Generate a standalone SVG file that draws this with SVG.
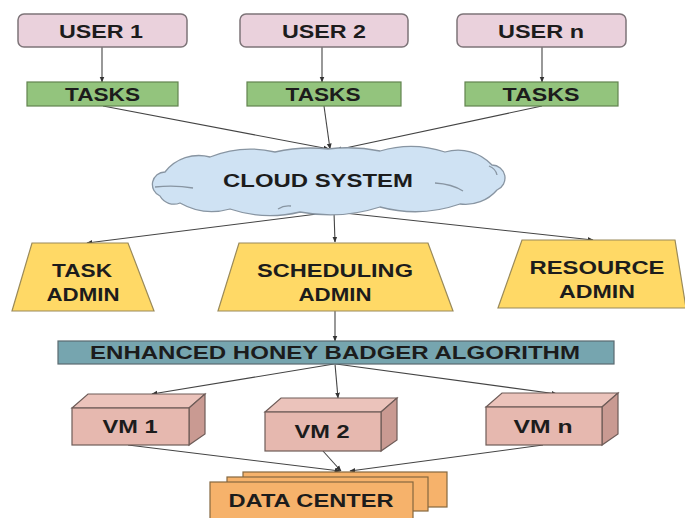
<svg xmlns="http://www.w3.org/2000/svg" width="685" height="518" viewBox="0 0 685 518">
<defs>
<marker id="arr" viewBox="0 0 10 10" refX="9" refY="5" markerWidth="6" markerHeight="6" markerUnits="userSpaceOnUse" orient="auto">
<path d="M0,1 L10,5 L0,9 z" fill="#333"/>
</marker>
<style>
text{font-family:"Liberation Sans",Arial,sans-serif;font-weight:bold;font-size:18px;fill:#1c1c1c;text-anchor:middle}
.user{fill:#ead1dc;stroke:#7d7478;stroke-width:1.5}
.task{fill:#93c47d;stroke:#62844f;stroke-width:1.2}
.cloud{fill:#cfe2f3;stroke:#8895a2;stroke-width:1.3}
.cl{fill:none;stroke:#8895a2;stroke-width:1.3}
.admin{fill:#ffd966;stroke:#9a8a5a;stroke-width:1.2}
.bar{fill:#76a5af;stroke:#5a6a70;stroke-width:1.2}
.vmf{fill:#e6b8af;stroke:#6e5c58;stroke-width:1.2}
.vmt{fill:#ebc3bb;stroke:#6e5c58;stroke-width:1.2}
.vms{fill:#c99a92;stroke:#6e5c58;stroke-width:1.2}
.dc{fill:#f6b26b;stroke:#85683f;stroke-width:1.2}
.conn line{stroke:#444;stroke-width:1.1;marker-end:url(#arr)}
</style>
</defs>

<g id="connectors" class="conn">
<line x1="102" y1="47" x2="102" y2="82"/>
<line x1="322" y1="47" x2="322" y2="82"/>
<line x1="542" y1="47" x2="542" y2="82"/>
<line x1="103" y1="106" x2="329" y2="149"/>
<line x1="324" y1="106" x2="330" y2="149"/>
<line x1="542" y1="106" x2="336" y2="150"/>
<line x1="333" y1="212" x2="87" y2="243"/>
<line x1="334" y1="212" x2="335" y2="242"/>
<line x1="335" y1="212" x2="593" y2="240"/>
<line x1="335" y1="311" x2="335" y2="341"/>
<line x1="334" y1="364" x2="152" y2="394"/>
<line x1="335" y1="364" x2="338" y2="398"/>
<line x1="336" y1="364" x2="557" y2="394"/>
<line x1="128" y1="445" x2="340" y2="471"/>
<line x1="323" y1="451" x2="341" y2="471"/>
<line x1="543" y1="445" x2="350" y2="471"/>
</g>

<g id="user1"><rect class="user" x="18" y="14" width="169" height="33" rx="6"/><text x="101" y="38" textLength="84" lengthAdjust="spacingAndGlyphs">USER 1</text></g>
<g id="user2"><rect class="user" x="240" y="14" width="168" height="33" rx="6"/><text x="324" y="38" textLength="84" lengthAdjust="spacingAndGlyphs">USER 2</text></g>
<g id="usern"><rect class="user" x="457" y="14" width="169" height="33" rx="6"/><text x="541" y="38" textLength="86" lengthAdjust="spacingAndGlyphs">USER n</text></g>

<g id="tasks1"><rect class="task" x="27" y="82" width="151" height="24"/><text x="102.5" y="101" textLength="75" lengthAdjust="spacingAndGlyphs">TASKS</text></g>
<g id="tasks2"><rect class="task" x="247" y="82" width="154" height="24"/><text x="323" y="101" textLength="75" lengthAdjust="spacingAndGlyphs">TASKS</text></g>
<g id="tasksn"><rect class="task" x="465" y="82" width="153" height="24"/><text x="541" y="101" textLength="77" lengthAdjust="spacingAndGlyphs">TASKS</text></g>

<g id="cloud">
<path class="cloud" d="M160,196 A12.5,12.5 0 0 1 165,172 A43,43 0 0 1 210,157 A108,108 0 0 1 275,152 A160,160 0 0 1 328,149 A160,160 0 0 1 380,151 A108,108 0 0 1 445,152 A46,46 0 0 1 492,165 A13,13 0 0 1 497,190 A41.5,41.5 0 0 1 460,204 A136,136 0 0 1 380,207 A162,162 0 0 1 300,212 A125,125 0 0 1 230,209 A65,65 0 0 1 180,203 A16,16 0 0 1 160,196 Z"/>
<path class="cl" d="M155,187 Q175,185 193,188"/>
<path class="cl" d="M435,183 Q452,184 463,191"/>
<path class="cl" d="M489,166 Q496,169 497,175"/>
<path class="cl" d="M278,209 Q284,205 291,206"/>
<text x="318" y="187" textLength="190" lengthAdjust="spacingAndGlyphs">CLOUD SYSTEM</text>
</g>

<g id="taskadmin"><polygon class="admin" points="32,243 128,243 154,311 12,311"/><text x="82" y="277" textLength="60" lengthAdjust="spacingAndGlyphs">TASK</text><text x="83" y="301" textLength="73" lengthAdjust="spacingAndGlyphs">ADMIN</text></g>
<g id="schedulingadmin"><polygon class="admin" points="239,243 428,243 453,311 218,311"/><text x="335" y="277" textLength="156" lengthAdjust="spacingAndGlyphs">SCHEDULING</text><text x="335" y="301" textLength="73" lengthAdjust="spacingAndGlyphs">ADMIN</text></g>
<g id="resourceadmin"><polygon class="admin" points="522,240 675,240 686,308 498,308"/><text x="597" y="274" textLength="135" lengthAdjust="spacingAndGlyphs">RESOURCE</text><text x="597" y="298" textLength="76" lengthAdjust="spacingAndGlyphs">ADMIN</text></g>

<g id="ehba"><rect class="bar" x="58" y="341" width="556" height="23"/><text x="335" y="359" textLength="490" lengthAdjust="spacingAndGlyphs">ENHANCED HONEY BADGER ALGORITHM</text></g>

<g id="vm1">
<polygon class="vmt" points="72,408 88,394 205,394 189,408"/>
<polygon class="vms" points="189,408 205,394 205,434 189,445"/>
<rect class="vmf" x="72" y="408" width="117" height="37"/>
<text x="130" y="433" textLength="55" lengthAdjust="spacingAndGlyphs">VM 1</text>
</g>
<g id="vm2">
<polygon class="vmt" points="265,412 281,398 397,398 381,412"/>
<polygon class="vms" points="381,412 397,398 397,440 381,451"/>
<rect class="vmf" x="265" y="412" width="116" height="39"/>
<text x="322" y="438" textLength="55" lengthAdjust="spacingAndGlyphs">VM 2</text>
</g>
<g id="vmn">
<polygon class="vmt" points="486,407 502,393 618,393 602,407"/>
<polygon class="vms" points="602,407 618,393 618,434 602,445"/>
<rect class="vmf" x="486" y="407" width="116" height="38"/>
<text x="543" y="433" textLength="59" lengthAdjust="spacingAndGlyphs">VM n</text>
</g>

<g id="datacenter">
<rect class="dc" x="243" y="472" width="204" height="35"/>
<rect class="dc" x="227" y="477" width="201" height="34"/>
<rect class="dc" x="210" y="482" width="203" height="40"/>
<text x="311" y="507" textLength="165" lengthAdjust="spacingAndGlyphs">DATA CENTER</text>
</g>
</svg>
